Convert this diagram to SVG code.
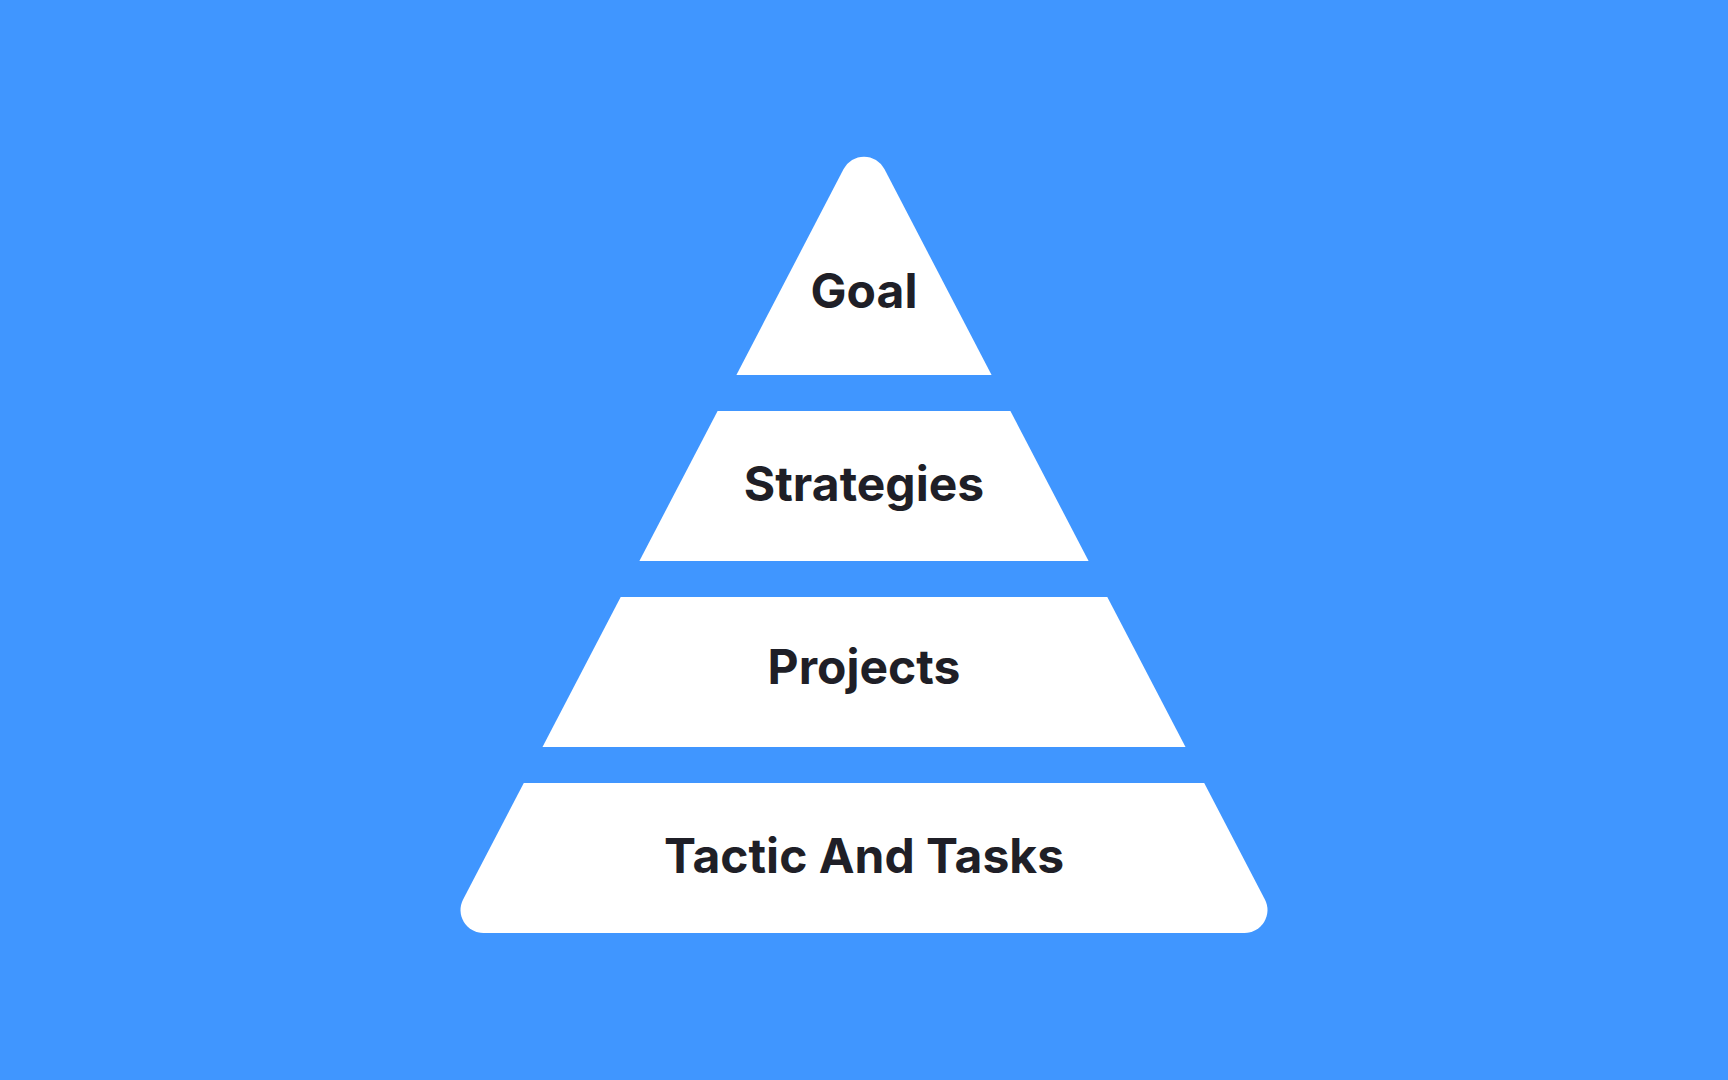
<svg xmlns="http://www.w3.org/2000/svg" width="1728" height="1080" viewBox="0 0 1728 1080">
  <style>
    .layer { fill: #ffffff; }
    .label { font-family: Inter, "Liberation Sans", sans-serif; font-weight: 700; font-size: 48px; fill: #1f1f27; text-anchor: middle; }
  </style>
  <rect width="1728" height="1080" fill="#4096ff"/>
  <g id="goal">
    <path class="layer" d="M 736.4 375 L 843.6 169.1 A 23 23 0 0 1 884.4 169.1 L 991.6 375 Z"/>
    <text class="label" x="864" y="308">Goal</text>
  </g>
  <g id="strategies">
    <path class="layer" d="M 717.6 411 L 1010.4 411 L 1088.6 561 L 639.4 561 Z"/>
    <text class="label" x="864" y="500.5">Strategies</text>
  </g>
  <g id="projects">
    <path class="layer" d="M 620.7 597 L 1107.3 597 L 1185.5 747 L 542.5 747 Z"/>
    <text class="label" x="864" y="684.3">Projects</text>
  </g>
  <g id="tactic-and-tasks">
    <path class="layer" d="M 523.8 783 L 1204.2 783 L 1264.9 899.4 A 23 23 0 0 1 1244.5 933 L 483.5 933 A 23 23 0 0 1 463.1 899.4 Z"/>
    <text class="label" x="864" y="873.3">Tactic And Tasks</text>
  </g>
  <g id="connectors"/>
</svg>
